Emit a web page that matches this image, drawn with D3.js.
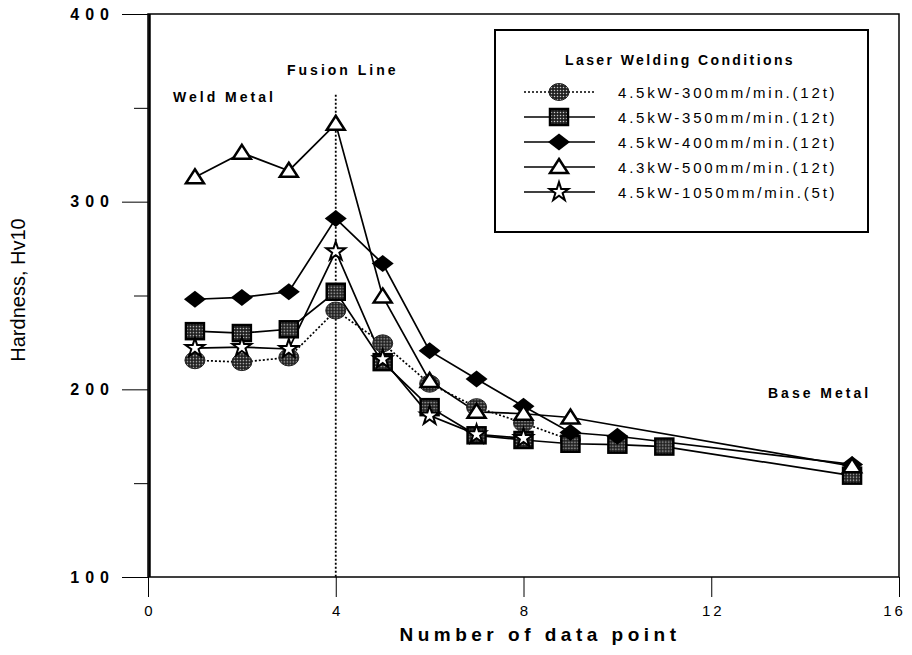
<!DOCTYPE html>
<html>
<head>
<meta charset="utf-8">
<script src="https://cdn.jsdelivr.net/npm/d3@7"></script>
<style>
  body { margin: 0; background: #fff; }
  text { font-family: "Liberation Sans", Arial, sans-serif; fill: #000; }
</style>
</head>
<body>
<div id="chart"></div>
<script>
// values
const pointsCircle = [1, 2, 3, 4, 5, 6, 7, 8, 9];
const hardCircle   = [215.5, 214.5, 217, 242, 224.5, 203, 190.5, 182, 173];

const pointsSquare = [1, 2, 3, 4, 5, 6, 7, 8, 9, 10, 11, 15];
const hardSquare   = [231, 230, 232, 252, 214.5, 190.5, 175.5, 173, 171, 170.5, 169.5, 154];

const pointsDiamond = [1, 2, 3, 4, 5, 6, 7, 8, 9, 10, 15];
const hardDiamond   = [248, 249, 252, 291, 267, 220.5, 205.5, 191, 177, 175, 160];

const pointsTriangle = [1, 2, 3, 4, 5, 6, 7, 8, 9, 15];
const hardTriangle   = [313, 326, 316.5, 341.5, 249.5, 204.5, 188, 187, 185, 159];

const pointsStar = [1, 2, 3, 4, 5, 6, 7, 8];
const hardStar   = [222, 222.5, 221.5, 273.5, 216, 186, 176, 174];

const legendLabels = [
  "4.5kW-300mm/min.(12t)",
  "4.5kW-350mm/min.(12t)",
  "4.5kW-400mm/min.(12t)",
  "4.3kW-500mm/min.(12t)",
  "4.5kW-1050mm/min.(5t)"
];
const xTicks = [0, 4, 8, 12, 16];
const yTicks = [100, 200, 300, 400];
const yMinor = [150, 250, 350];
const fusionPoint = 4;

const W = 912, H = 655;
const svg = d3.select("#chart").append("svg")
  .attr("width", W).attr("height", H);

const x = d3.scaleLinear().domain([0, 16]).range([148, 899]);
const y = d3.scaleLinear().domain([100, 400]).range([577, 14]);

// stippled fill used by circle and square markers
const defs = svg.append("defs");
const pat = defs.append("pattern")
  .attr("id", "stip").attr("patternUnits", "userSpaceOnUse")
  .attr("width", 3).attr("height", 3);
pat.append("rect").attr("width", 3).attr("height", 3).attr("fill", "#222");
pat.append("circle").attr("cx", 1.5).attr("cy", 1.5).attr("r", 0.75).attr("fill", "#ccc");

// y axis
svg.append("g")
  .attr("transform", `translate(${x(0)},0)`)
  .call(d3.axisLeft(y).tickValues(yTicks).tickSize(26).tickPadding(7))
  .attr("font-size", 16)
  .call(g => g.select(".domain").remove())
  .call(g => g.selectAll("text").style("font-size", "16px").style("font-weight", "bold").attr("letter-spacing", "6px"));
svg.append("g")
  .attr("transform", `translate(${x(0)},0)`)
  .call(d3.axisLeft(y).tickValues(yMinor).tickSize(14).tickFormat(""))
  .call(g => g.select(".domain").remove());

// x axis
svg.append("g")
  .attr("transform", `translate(0,${y(100)})`)
  .call(d3.axisBottom(x).tickValues(xTicks).tickSize(20).tickPadding(8))
  .attr("font-size", 15)
  .call(g => g.select(".domain").remove())
  .call(g => g.selectAll("text").style("font-size", "15px").attr("letter-spacing", "3px")
    .attr("dx", d => d === 16 ? "-5px" : "1.5px"));

// frame
svg.append("rect")
  .attr("x", x(0)).attr("y", y(400))
  .attr("width", x(16) - x(0)).attr("height", y(100) - y(400))
  .attr("fill", "none").attr("stroke", "#000").attr("stroke-width", 1.5);
svg.append("line")
  .attr("x1", x(0) + 1.5).attr("x2", x(0) + 1.5)
  .attr("y1", y(400)).attr("y2", y(100))
  .attr("stroke", "#000").attr("stroke-width", 2.5);

// axis titles
svg.append("text")
  .attr("x", 540).attr("y", 641)
  .attr("text-anchor", "middle")
  .style("font-size", "19px").style("font-weight", "bold")
  .attr("letter-spacing", "4.5px")
  .text("Number of data point");
svg.append("text")
  .attr("transform", `translate(25,290) rotate(-90)`)
  .attr("text-anchor", "middle")
  .style("font-size", "20px")
  .text("Hardness, Hv10");

// fusion line
svg.append("line")
  .attr("x1", x(fusionPoint)).attr("x2", x(fusionPoint))
  .attr("y1", y(357)).attr("y2", y(100))
  .attr("stroke", "#000").attr("stroke-width", 1.8)
  .attr("stroke-dasharray", "2,2");

const note = (tx, ty, t) => svg.append("text")
  .attr("x", tx).attr("y", ty)
  .style("font-size", "14px").style("font-weight", "bold")
  .attr("letter-spacing", "3px").text(t);
note(287, 75, "Fusion Line");
note(173, 102, "Weld Metal");
note(768, 398, "Base Metal");

// marker drawers
const markers = {
  circle: (g) => g.append("ellipse").attr("rx", 10).attr("ry", 8.5)
    .attr("fill", "url(#stip)").attr("stroke", "#222").attr("stroke-width", 1),
  square: (g) => g.append("rect").attr("x", -9).attr("y", -8).attr("width", 18).attr("height", 16)
    .attr("fill", "url(#stip)").attr("stroke", "#000").attr("stroke-width", 2.5),
  diamond: (g) => g.append("path").attr("d", "M-11,0L0,-8.5L11,0L0,8.5Z").attr("fill", "#000"),
  triangle: (g) => g.append("path").attr("d", "M0,-8L9,6L-9,6Z")
    .attr("fill", "#fff").attr("stroke", "#000").attr("stroke-width", 2.5).attr("stroke-linejoin", "miter"),
  star: (g) => g.append("path").attr("d", d3.symbol().type(d3.symbolStar).size(110)())
    .attr("fill", "#fff").attr("stroke", "#000").attr("stroke-width", 2)
};

const series = [
  { xs: pointsCircle, ys: hardCircle, marker: "circle", dash: "2,2" },
  { xs: pointsSquare, ys: hardSquare, marker: "square", dash: null },
  { xs: pointsDiamond, ys: hardDiamond, marker: "diamond", dash: null },
  { xs: pointsTriangle, ys: hardTriangle, marker: "triangle", dash: null },
  { xs: pointsStar, ys: hardStar, marker: "star", dash: null }
];

const line = d3.line().x(d => x(d[0])).y(d => y(d[1]));

series.forEach(s => {
  const pts = s.xs.map((v, i) => [v, s.ys[i]]);
  svg.append("path")
    .attr("d", line(pts))
    .attr("fill", "none").attr("stroke", "#000")
    .attr("stroke-width", 1.7)
    .attr("stroke-dasharray", s.dash);
});
series.forEach(s => {
  s.xs.forEach((v, i) => {
    const g = svg.append("g").attr("transform", `translate(${x(v)},${y(s.ys[i])})`);
    markers[s.marker](g);
  });
});

// legend
const lg = svg.append("g");
lg.append("rect")
  .attr("x", 495).attr("y", 30).attr("width", 373).attr("height", 202)
  .attr("fill", "#fff").attr("stroke", "#000").attr("stroke-width", 2);
lg.append("text")
  .attr("x", 565).attr("y", 65)
  .style("font-size", "14px").style("font-weight", "bold")
  .attr("letter-spacing", "2.4px")
  .text("Laser Welding Conditions");
series.forEach((s, i) => {
  const ly = 92 + i * 25;
  lg.append("line")
    .attr("x1", 524).attr("x2", 595).attr("y1", ly).attr("y2", ly)
    .attr("stroke", "#000").attr("stroke-width", 1.5)
    .attr("stroke-dasharray", s.dash);
  const g = lg.append("g").attr("transform", `translate(559,${ly})`);
  markers[s.marker](g);
  lg.append("text")
    .attr("x", 618).attr("y", ly + 5.5)
    .style("font-size", "15px")
    .attr("letter-spacing", "2.8px")
    .text(legendLabels[i]);
});
</script>
</body>
</html>
